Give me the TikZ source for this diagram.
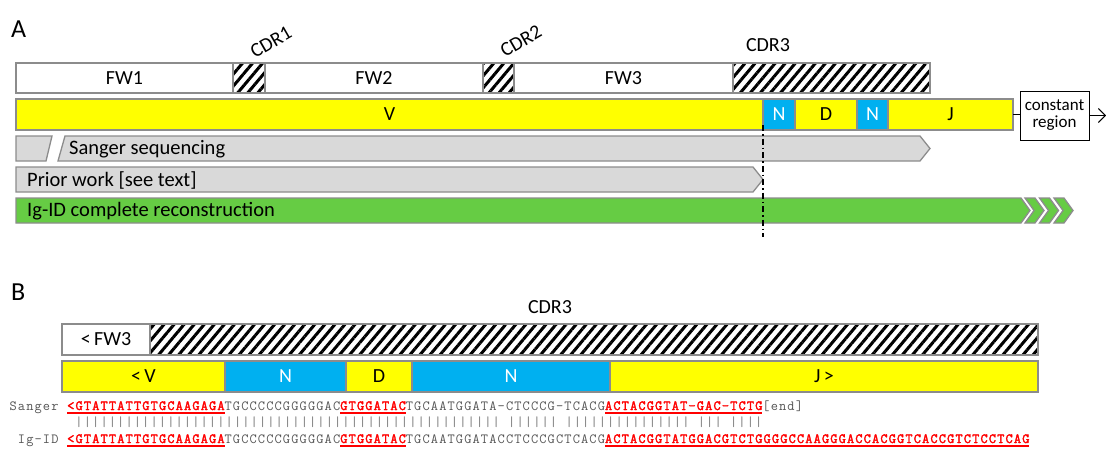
\documentclass[tikz,border=0pt]{standalone}
\usepackage{fontspec}
\setmainfont{Carlito}
\newfontfamily\seqfont[LetterSpace=8.1]{Latin Modern Mono}
\newfontfamily\seqboldfont[LetterSpace=8.1,FakeBold=2.2]{Latin Modern Mono}
\usetikzlibrary{patterns.meta,arrows.meta}
\definecolor{edgegray}{HTML}{8C8C8C}
\definecolor{vyellow}{HTML}{FFFF00}
\definecolor{nblue}{HTML}{00B0F0}
\definecolor{igreen}{HTML}{66CC44}
\definecolor{readgray}{HTML}{D9D9D9}
\definecolor{seqgray}{HTML}{555555}
\definecolor{bargray}{HTML}{777777}
\definecolor{seqred}{HTML}{FF0000}
% bold red, underlined stretch of sequence
\newcommand\hl[1]{{\color{seqred}\seqboldfont\fontsize{14}{15}\selectfont\setbox0=\hbox{#1}\rlap{\rule[-3.5pt]{\wd0}{1.6pt}}#1}}
% rectangular segment: style, name, x1, y1, x2, y2, text
\newcommand\segment[7]{\node[seg,#1,minimum width={(#5)-(#3)},minimum height={(#6)-(#4)}] (#2) at (#3,#4) {#7};}
\begin{document}
\begin{tikzpicture}[x=1pt,y=-1pt,
  seg/.style={draw=edgegray,line width=1.3pt,inner sep=0pt,outer sep=0pt,anchor=north west,
              font=\fontsize{20}{22}\selectfont},
  plain/.style={fill=white},
  hatch/.style={pattern={Lines[angle=50,distance=7.7pt,line width=3pt]},pattern color=black},
  vseg/.style={fill=vyellow},
  nseg/.style={fill=nblue,text=white},
  readarrow/.style={draw=edgegray,line width=1.3pt,fill=readgray,line join=miter},
  fullarrow/.style={draw=edgegray,line width=1.3pt,fill=igreen,line join=miter},
  rowlabel/.style={anchor=west,inner sep=0pt,font=\fontsize{20.5}{22}\selectfont},
  panel/.style={anchor=base west,inner sep=0pt,font=\fontsize{26}{28}\selectfont},
  cdrlabel/.style={inner sep=0pt,font=\fontsize{20}{22}\selectfont},
  seqtxt/.style={inner sep=0pt,font=\seqfont\fontsize{14}{15}\selectfont,text=seqgray},
]
\useasboundingbox (0,0) rectangle (1106,448);
\fill[white] (0,0) rectangle (1106,448);

% ---------------- panel A ----------------
\node[panel] (labA) at (11,37) {A};

% framework / CDR row
\segment{plain}{fw1}{16}{63}{233}{93}{FW1}
\segment{hatch}{cdr1}{233}{63}{265}{93}{}
\segment{plain}{fw2}{265}{63}{483}{93}{FW2}
\segment{hatch}{cdr2}{483}{63}{514}{93}{}
\segment{plain}{fw3}{514}{63}{733}{93}{FW3}
\segment{hatch}{cdr3}{733}{63}{930}{93}{}
\node[cdrlabel,rotate=30] (cdr1lbl) at (271,42) {CDR1};
\node[cdrlabel,rotate=30] (cdr2lbl) at (521,41) {CDR2};
\node[cdrlabel] (cdr3lbl) at (768,45) {CDR3};

% gene segment row
\segment{vseg}{vgene}{16}{99}{763}{130}{V}
\segment{nseg}{nA}{763}{99}{795}{130}{N}
\segment{vseg}{dgene}{795}{99}{857}{130}{D}
\segment{nseg}{nB}{857}{99}{888}{130}{N}
\segment{vseg}{jgene}{888}{99}{1013}{130}{J}

% constant region and its outgoing arrow
\node[draw=black,line width=0.9pt,minimum width=69pt,minimum height=49pt,inner sep=0pt,
      align=center,font=\fontsize{17}{19}\selectfont] (const) at (1054.5,115.5) {constant\\[-2pt]region};
\coordinate (outend) at (1106,115.5);
\draw[line width=0.9pt] (jgene.east) -- (jgene.east -| const.west);
\draw[line width=0.9pt,-{Straight Barb[length=7pt,width=14pt]}] (const.east) -- (outend);

% Sanger sequencing read (broken start)
\draw[readarrow] (16,136) -- (52,136) -- (46,161) -- (16,161) -- cycle;
\draw[readarrow] (65,136) -- (920,136) -- (930,148.5) -- (920,161) -- (58,161) -- cycle;
\node[rowlabel] (sangerlbl) at (69,149) {Sanger sequencing};

% prior work read
\draw[readarrow] (16,167) -- (753,167) -- (763,179.5) -- (753,192) -- (16,192) -- cycle;
\node[rowlabel] (priorlbl) at (27,180) {Prior work [see text]};

% complete reconstruction, continuing past the constant region
\draw[fullarrow] (16,198) -- (1021,198) -- (1030,210.5) -- (1021,223) -- (16,223) -- cycle;
\foreach \cx in {1025,1039.5,1054}{
  \draw[fullarrow] (\cx,198) -- (\cx+10,198) -- (\cx+19,210.5) -- (\cx+10,223) -- (\cx,223) -- (\cx+9,210.5) -- cycle;
}
\node[rowlabel] (iglbl) at (27,211) {Ig-ID complete reconstruction};

% boundary of previously reported coverage
\coordinate (cuttop) at (763,125);
\coordinate (cutbot) at (763,237);
\draw[line width=1.3pt,dash pattern=on 6pt off 3pt on 1.5pt off 3pt] (cuttop) -- (cutbot);

% ---------------- panel B ----------------
\node[panel] (labB) at (11,300) {B};
\node[cdrlabel] (cdr3Blbl) at (550,307) {CDR3};

\segment{plain}{fw3B}{62}{324}{150}{355}{<\,FW3}
\segment{hatch}{cdr3B}{150}{324}{1038}{355}{}

\segment{vseg}{vB}{62}{361}{225}{392}{<\,V}
\segment{nseg}{nB1}{225}{361}{346}{392}{N}
\segment{vseg}{dB}{346}{361}{412}{392}{D}
\segment{nseg}{nB2}{412}{361}{610}{392}{N}
\segment{vseg}{jB}{610}{361}{1038}{392}{J\,>}

% alignment of the two reads
\node[seqtxt,anchor=base east] (sangername) at (58.7,410) {Sanger};
\node[seqtxt,anchor=base west] (sangerseq) at (67,410)
  {\hl{<GTATTATTGTGCAAGAGA}TGCCCCCGGGGGAC\hl{GTGGATAC}TGCAATGGATA-CTCCCG-TCACG\hl{ACTACGGTAT-GAC-TCTG}[end]};
\node[seqtxt,text=bargray,anchor=base west] (matchbars) at (75.29,426)
  {|||||||||||||||||||||||||||||||||||||||||||||||||||\ ||||||\ |||||||||||||||\ |||\ ||||};
\node[seqtxt,anchor=base east] (igname) at (58.7,443) {Ig-ID};
\node[seqtxt,anchor=base west] (igseq) at (67,443)
  {\hl{<GTATTATTGTGCAAGAGA}TGCCCCCGGGGGAC\hl{GTGGATAC}TGCAATGGATACCTCCCGCTCACG\hl{ACTACGGTATGGACGTCTGGGGCCAAGGGACCACGGTCACCGTCTCCTCAG}};
\end{tikzpicture}
\end{document}
